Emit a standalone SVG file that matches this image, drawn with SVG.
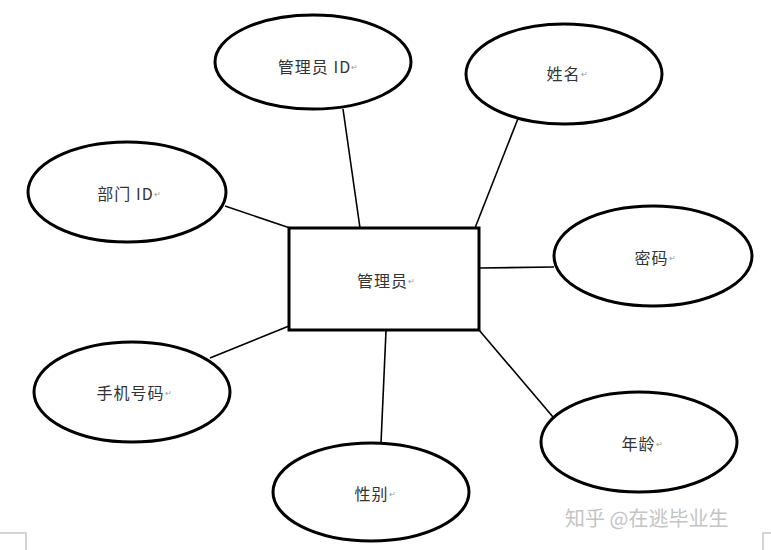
<svg xmlns="http://www.w3.org/2000/svg" width="771" height="550" viewBox="0 0 771 550">
<style>
.ent{fill:#fff;stroke:#000;stroke-width:3}
.attr{fill:#fff;stroke:#000;stroke-width:3}
.lbl{font-family:"Noto Sans CJK SC","Liberation Sans",sans-serif;font-size:16px;fill:#333;text-anchor:middle;dominant-baseline:central;letter-spacing:1px}
.ret{font-size:8px;fill:#999;letter-spacing:0}
.conn line{stroke:#000;stroke-width:1.6}
.mark{stroke:#c8c8c8;stroke-width:1.5;fill:none}
.wm{font-family:"Noto Sans CJK SC","Liberation Sans",sans-serif;font-size:20px;fill:#c4c4c4}
</style>
<rect width="771" height="550" fill="#fff"/>
<g id="connectors" class="conn">
<line x1="343" y1="109" x2="360" y2="228"/>
<line x1="519" y1="116" x2="475" y2="228"/>
<line x1="225" y1="206" x2="290" y2="228"/>
<line x1="479" y1="268" x2="554" y2="267"/>
<line x1="210" y1="358" x2="289" y2="326"/>
<line x1="479" y1="330" x2="553" y2="417"/>
<line x1="386" y1="331" x2="381" y2="443"/>
</g>
<g id="admin">
<rect class="ent" x="289" y="228" width="190" height="102"/>
<text class="lbl" x="386" y="280">管理员<tspan class="ret">↵</tspan></text>
</g>
<g id="adminId">
<ellipse class="attr" cx="313" cy="62" rx="98" ry="47"/>
<text class="lbl" x="318" y="66">管理员 ID<tspan class="ret">↵</tspan></text>
</g>
<g id="name">
<ellipse class="attr" cx="564" cy="74" rx="98" ry="50"/>
<text class="lbl" x="567" y="73">姓名<tspan class="ret">↵</tspan></text>
</g>
<g id="deptId">
<ellipse class="attr" cx="127" cy="192" rx="99" ry="50"/>
<text class="lbl" x="129" y="193">部门 ID<tspan class="ret">↵</tspan></text>
</g>
<g id="password">
<ellipse class="attr" cx="653" cy="256" rx="99" ry="50"/>
<text class="lbl" x="655" y="257">密码<tspan class="ret">↵</tspan></text>
</g>
<g id="phone">
<ellipse class="attr" cx="132" cy="392" rx="98" ry="50"/>
<text class="lbl" x="134" y="392">手机号码<tspan class="ret">↵</tspan></text>
</g>
<g id="gender">
<ellipse class="attr" cx="371" cy="492" rx="98" ry="49"/>
<text class="lbl" x="375" y="493">性别<tspan class="ret">↵</tspan></text>
</g>
<g id="age">
<ellipse class="attr" cx="639" cy="442" rx="98" ry="50"/>
<text class="lbl" x="642" y="443">年龄<tspan class="ret">↵</tspan></text>
</g>
<path class="mark" d="M0 533H26V550M771 533H763V550"/>
<text class="wm" x="565" y="526">知乎 @在逃毕业生</text>
</svg>
